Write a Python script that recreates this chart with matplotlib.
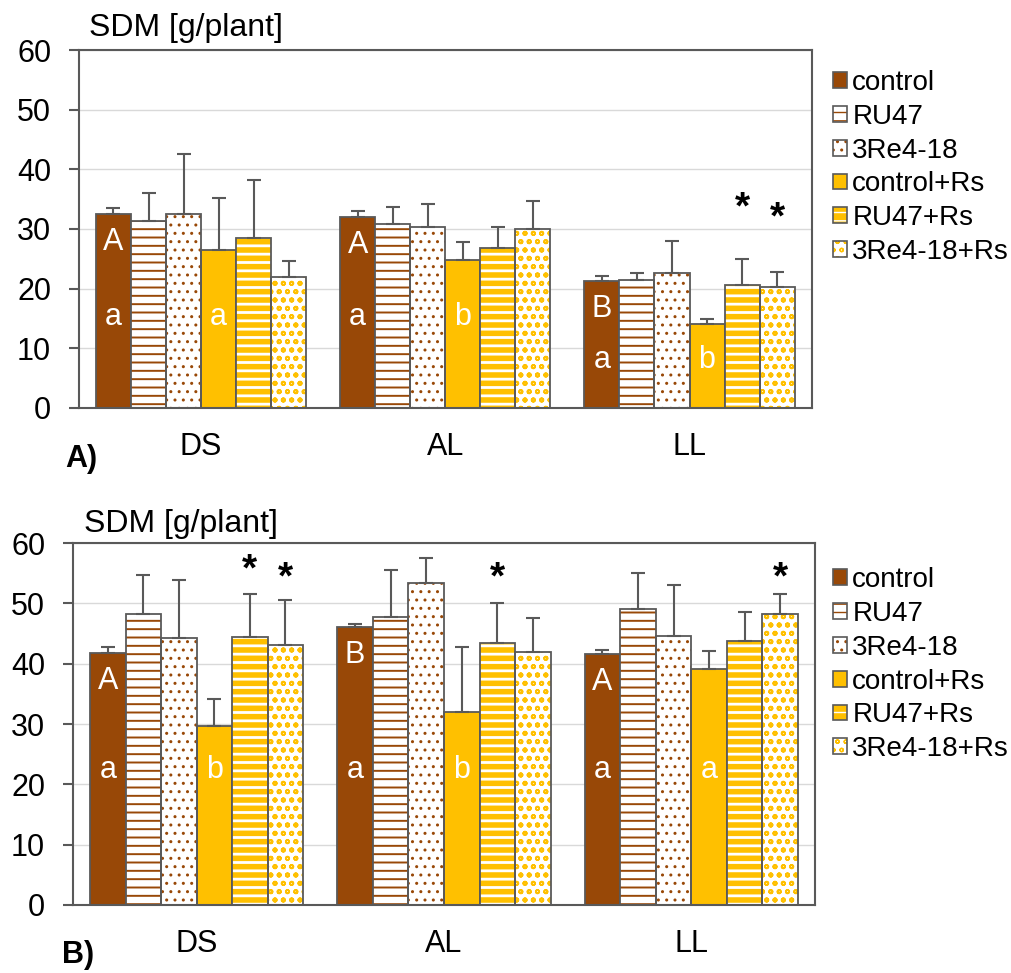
import numpy as np
import matplotlib
matplotlib.use("Agg")
import matplotlib.pyplot as plt
from matplotlib.patches import Patch
from matplotlib.legend_handler import HandlerTuple

plt.rcParams['font.family'] = ['Liberation Sans', 'DejaVu Sans']

sites = ['DS', 'AL', 'LL']
treatments = ['control', 'RU47', '3Re4-18', 'control+Rs', 'RU47+Rs', '3Re4-18+Rs']

# panel A, one row per treatment, values per site
a_means = [[32.5, 32.0, 21.3],
           [31.4, 30.8, 21.4],
           [32.5, 30.3, 22.7],
           [26.5, 24.8, 14.1],
           [28.5, 26.8, 20.6],
           [21.9, 30.0, 20.2]]
a_tops = [[33.5, 33.0, 22.2],
          [36.1, 33.7, 22.6],
          [42.5, 34.2, 28.0],
          [35.2, 27.8, 14.9],
          [38.2, 30.4, 25.0],
          [24.7, 34.7, 22.8]]

# panel B
b_means = [[41.8, 46.1, 41.6],
           [48.3, 47.8, 49.1],
           [44.3, 53.3, 44.6],
           [29.6, 32.0, 39.1],
           [44.4, 43.5, 43.8],
           [43.1, 42.0, 48.2]]
b_tops = [[42.7, 46.5, 42.3],
          [54.7, 55.6, 55.1],
          [53.8, 57.5, 53.0],
          [34.1, 42.8, 42.1],
          [51.6, 50.1, 48.5],
          [50.6, 47.6, 51.6]]

# letters inside the control / control+Rs bars
a_upper = ['A', 'A', 'B']
a_lower_ctrl = ['a', 'a', 'a']
a_lower_rs = ['a', 'b', 'b']
a_lower_y = [15.2, 15.2, 8.0]
b_upper = ['A', 'B', 'A']
b_lower_ctrl = ['a', 'a', 'a']
b_lower_rs = ['b', 'b', 'a']
b_lower_y = [22.4, 22.4, 22.4]

# significance stars: (treatment index, site index, y)
a_stars = [(4, 2, 33.5), (5, 2, 31.8)]
b_stars = [(4, 0, 55.5), (5, 0, 54.2), (4, 1, 54.2), (5, 2, 54.2)]

brown = '#984807'
gold = '#FFC000'
edge = '#595959'

# face, hatch, hatch colour, hatch linewidth
styles = [(brown, None, None, 0),
          ('white', '--', brown, 1.4),
          ('white', '..', brown, 1.0),
          (gold, None, None, 0),
          (gold, '--', 'white', 2.0),
          ('white', 'oo', gold, 1.3)]

FS = 22


def hatched_bar(ax, x, h, w, st):
    face, hatch, hcol, hlw = st
    if hatch is None:
        ax.bar(x, h, w, color=face, edgecolor=edge, linewidth=1.3, zorder=2)
        return
    with plt.rc_context({'hatch.linewidth': hlw}):
        bars = ax.bar(x, h, w, color=face, edgecolor=hcol, hatch=hatch,
                      linewidth=0, zorder=2)
    for b in bars:
        if hasattr(b, 'set_hatch_linewidth'):
            b.set_hatch_linewidth(hlw)
    ax.bar(x, h, w, fill=False, edgecolor=edge, linewidth=1.3, zorder=3)


def panel(ax, means, tops, upper, lower_c, lower_r, lower_y, stars, w):
    x = np.arange(len(sites))
    for k in range(6):
        xs = x + (k - 2.5) * w
        hatched_bar(ax, xs, means[k], w, styles[k])
        m = np.array(means[k])
        ax.errorbar(xs, m, yerr=[np.zeros(3), np.array(tops[k]) - m],
                    fmt='none', ecolor=edge, elinewidth=1.5, capsize=5,
                    capthick=1.5, zorder=4)
    for i in range(3):
        xc = x[i] - 2.5 * w
        ax.text(xc, means[0][i] - 4.7, upper[i], color='white', fontsize=FS,
                ha='center', va='center', zorder=5)
        ax.text(xc, lower_y[i], lower_c[i], color='white', fontsize=FS,
                ha='center', va='center', zorder=5)
        ax.text(x[i] + 0.5 * w, lower_y[i], lower_r[i], color='white',
                fontsize=FS, ha='center', va='center', zorder=5)
    for k, i, y in stars:
        ax.text(x[i] + (k - 2.5) * w, y, '*', fontsize=28, fontweight='bold',
                ha='center', va='center', zorder=5)
    ax.set_xlim(-0.5, 2.5)
    ax.set_ylim(0, 60)
    ax.set_yticks(range(0, 61, 10))
    ax.set_xticks(x)
    ax.set_xticklabels(sites)
    ax.yaxis.grid(True, color='#D9D9D9', linewidth=1)
    ax.set_axisbelow(True)
    for s in ax.spines.values():
        s.set_color(edge)
        s.set_linewidth(1.5)
    ax.tick_params(axis='y', labelsize=FS, length=7, width=1.5, color=edge, pad=13)
    ax.tick_params(axis='x', labelsize=FS, length=0, pad=17)


fig = plt.figure(figsize=(10.12, 9.73), dpi=100)
ax1 = fig.add_axes([0.078, 0.5807, 0.724, 0.3679])
ax2 = fig.add_axes([0.0721, 0.0699, 0.7332, 0.372])

panel(ax1, a_means, a_tops, a_upper, a_lower_ctrl, a_lower_rs, a_lower_y, a_stars, 0.1434)
panel(ax2, b_means, b_tops, b_upper, b_lower_ctrl, b_lower_rs, b_lower_y, b_stars, 0.1437)

fig.text(0.088, 0.971, 'SDM [g/plant]', fontsize=23, va='center')
fig.text(0.083, 0.461, 'SDM [g/plant]', fontsize=23, va='center')
fig.text(0.064, 0.528, 'A)', fontsize=FS, fontweight='bold', va='center')
fig.text(0.061, 0.018, 'B)', fontsize=FS, fontweight='bold', va='center')

handles = []
for k, st in enumerate(styles):
    face, hatch, hcol, hlw = st
    outline = Patch(facecolor='none', edgecolor=edge, linewidth=1.2)
    if hatch is None:
        inner = Patch(facecolor=face, edgecolor=face, linewidth=0)
    else:
        inner = Patch(facecolor=face, edgecolor=hcol, hatch=hatch, linewidth=0)
    handles.append((inner, outline))

for ax, ytop in [(ax1, 0.928), (ax2, 0.417)]:
    fig.legend(handles=handles, labels=treatments, loc='upper left',
               bbox_to_anchor=(0.823, ytop),
               handler_map={tuple: HandlerTuple(ndivide=1, pad=0)},
               frameon=False, fontsize=20, handlelength=0.5, handleheight=0.5,
               handletextpad=0.2, labelspacing=0.28, borderpad=0, borderaxespad=0)

fig.savefig('out.png', dpi=100)
